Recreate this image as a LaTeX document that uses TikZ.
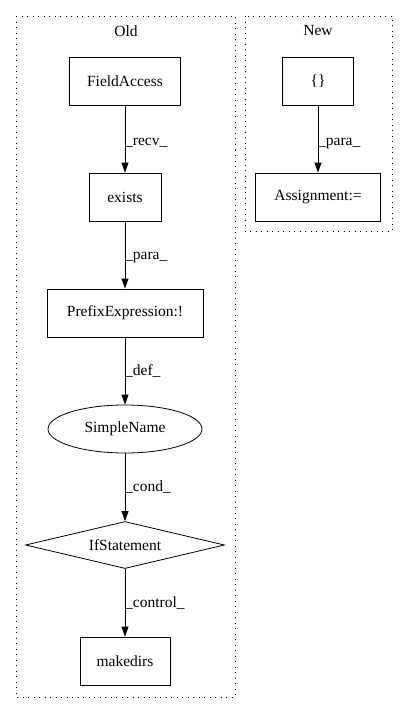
\documentclass[tikz,border=0pt]{standalone}
\usepackage{fontspec}
\setmainfont{Liberation Serif}
\usetikzlibrary{shapes.geometric,arrows.meta}
\begin{document}
\begin{tikzpicture}[x=1pt,y=-1pt,
  every node/.style={font=\fontsize{15.5}{18}\selectfont, inner sep=0pt},
  box/.style={draw, line width=0.8pt, rectangle, minimum height=48pt},
  ell/.style={draw, line width=0.8pt, ellipse, minimum height=48pt, minimum width=154pt},
  dia/.style={draw, line width=0.8pt, diamond, aspect=4.2, minimum height=47pt, minimum width=199pt},
  cluster/.style={draw, line width=0.8pt, dash pattern=on 1pt off 4.5pt},
  edge/.style={draw, line width=0.8pt, -{Triangle[length=10pt,width=7pt]}},
  elab/.style={anchor=west}
]
\useasboundingbox (0,0) rectangle (408,712);
\draw[cluster] (16,16) rectangle (235,697);
\draw[cluster] (245,16) rectangle (392,231);
\node (oldlab) at (126,31) {Old};
\node (newlab) at (318,31) {New};

\node[box, minimum width=111pt] (fa) at (125,81) {FieldAccess};
\node[box, minimum width=72pt] (ex) at (125,197) {exists};
\node[box, minimum width=156pt] (pe) at (125,313) {PrefixExpression:!};
\node[ell] (sn) at (125,429) {SimpleName};
\node[dia] (ifs) at (125,545) {IfStatement};
\node[box, minimum width=90pt] (md) at (125,661) {makedirs};

\node[box, minimum width=71pt] (br) at (318,81) {\{\}};
\node[box, minimum width=125pt] (as) at (318,197) {Assignment:=};

\draw[edge] (fa) -- (ex);
\draw[edge] (ex) -- (pe);
\draw[edge] (pe) -- (sn);
\draw[edge] (sn) -- (ifs.north);
\draw[edge] (ifs.south) -- (md);
\draw[edge] (br) -- (as);

\node[elab] (l1) at (125,143) {\_recv\_};
\node[elab] (l2) at (125,257) {\_para\_};
\node[elab] (l3) at (125,371) {\_def\_};
\node[elab] (l4) at (125,487) {\_cond\_};
\node[elab] (l5) at (125,603) {\_control\_};
\node[elab] (l6) at (318,143) {\_para\_};
\end{tikzpicture}
\end{document}
